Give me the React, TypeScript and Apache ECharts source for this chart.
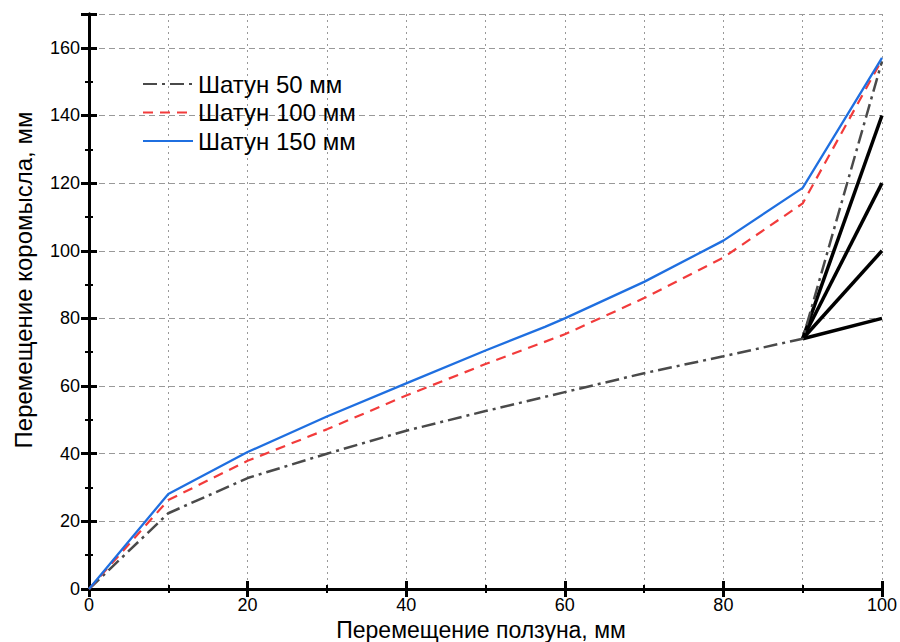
import React, { useEffect, useRef } from "react";
import * as echarts from "echarts";

const xTicks = [0, 20, 40, 60, 80, 100];
const yTicks = [0, 20, 40, 60, 80, 100, 120, 140, 160];

const x50 = [0, 10, 20, 30, 40, 50, 60, 70, 80, 90, 100];
const y50 = [0, 22.4, 32.8, 40, 46.8, 52.6, 58.2, 63.8, 68.8, 74, 156];

const x100 = [0, 10, 20, 30, 40, 50, 60, 70, 80, 90, 100];
const y100 = [0, 26.3, 37.9, 47.2, 57.2, 66.5, 75.3, 86, 98, 114, 156.5];

const x150 = [0, 10, 20, 30, 40, 50, 57.5, 60, 70, 80, 90, 100];
const y150 = [0, 28.1, 40.5, 51, 60.8, 70.5, 77.5, 80, 90.8, 103, 118.6, 157];

const fanStart = [90, 74];
const fanEndX = 100;
const fanEndY = [80, 100, 120, 140];

const legendNames = ["Шатун 50 мм", "Шатун 100 мм", "Шатун 150 мм"];
const xTitle = "Перемещение ползуна, мм";
const yTitle = "Перемещение коромысла, мм";

const FONT = "Liberation Sans, Arial, sans-serif";

export default function App() {
  const ref = useRef<HTMLDivElement>(null);
  useEffect(() => {
    document.body.style.margin = "0";
    const chart = echarts.init(ref.current!, null, { renderer: "svg" });
    const zip = (xs: number[], ys: number[]) => xs.map((x, i) => [x, ys[i]]);
    const frameAxisCommon = {
      type: "value",
      axisLine: { show: true, lineStyle: { color: "#000", width: 3 } },
      axisTick: { show: true, inside: true, length: 8, lineStyle: { color: "#000", width: 3 } },
      minorTick: { show: true, splitNumber: 2, length: 4, lineStyle: { color: "#000", width: 2 } },
    };
    const xBase = { ...frameAxisCommon, min: 0, max: 100, interval: 20 };
    const yBase = { ...frameAxisCommon, min: 0, max: 170, interval: 20 };
    const option: any = {
      animation: false,
      textStyle: { fontFamily: FONT },
      grid: { left: 89, right: 18, top: 14, bottom: 53, containLabel: false },
      legend: {
        data: legendNames,
        orient: "vertical",
        left: 137,
        top: 67,
        itemWidth: 50,
        itemHeight: 14,
        itemGap: 4.5,
        itemStyle: { opacity: 0 },
        textStyle: { fontSize: 24, lineHeight: 24, color: "#000", fontFamily: FONT },
        selectedMode: false,
      },
      xAxis: [
        {
          ...xBase,
          position: "bottom",
          axisLabel: { show: true, color: "#000", fontSize: 18, margin: 7, fontFamily: FONT,
            formatter: (v: number) => (xTicks.includes(v) ? String(v) : "") },
          splitLine: { show: true, lineStyle: { color: "#999", type: [2, 4], width: 1 } },
          minorSplitLine: { show: true, lineStyle: { color: "#999", type: [2, 4], width: 1 } },
        },
        {
          ...xBase,
          position: "top",
          axisLabel: { show: false },
          splitLine: { show: false },
        },
      ],
      yAxis: [
        {
          ...yBase,
          position: "left",
          axisLabel: { show: true, color: "#000", fontSize: 18, margin: 9, fontFamily: FONT,
            formatter: (v: number) => (yTicks.includes(v) ? String(v) : "") },
          splitLine: { show: true, lineStyle: { color: "#999", type: [6, 4], width: 1 } },
        },
        {
          ...yBase,
          position: "right",
          axisLabel: { show: false },
          splitLine: { show: false },
        },
      ],
      graphic: [
        {
          type: "text",
          x: 481,
          y: 630,
          style: { text: xTitle, fontSize: 23, fill: "#000", fontFamily: FONT, align: "center", verticalAlign: "middle" },
        },
        {
          type: "text",
          x: 23,
          y: 280,
          rotation: Math.PI / 2,
          style: { text: yTitle, fontSize: 24, fill: "#000", fontFamily: FONT, align: "center", verticalAlign: "middle" },
        },
      ],
      series: [
        ...fanEndY.map((ey) => ({
          type: "line",
          data: [fanStart, [fanEndX, ey]],
          symbol: "none",
          lineStyle: { color: "#000", width: 3.5 },
          z: 3,
          silent: true,
        })),
        {
          name: legendNames[0],
          type: "line",
          data: zip(x50, y50),
          symbol: "none",
          lineStyle: { color: "#4a4a4a", width: 2.5, type: [14, 5, 3, 5] },
          itemStyle: { color: "#4a4a4a" },
          z: 4,
        },
        {
          name: legendNames[1],
          type: "line",
          data: zip(x100, y100),
          symbol: "none",
          lineStyle: { color: "#f23b3b", width: 2.2, type: [10, 7] },
          itemStyle: { color: "#f23b3b" },
          z: 5,
        },
        {
          name: legendNames[2],
          type: "line",
          data: zip(x150, y150),
          symbol: "none",
          lineStyle: { color: "#1f6fe0", width: 2.3 },
          itemStyle: { color: "#1f6fe0" },
          z: 6,
        },
      ],
    };
    chart.setOption(option);
    return () => chart.dispose();
  }, []);
  return <div ref={ref} style={{ width: 900, height: 642 }} />;
}
